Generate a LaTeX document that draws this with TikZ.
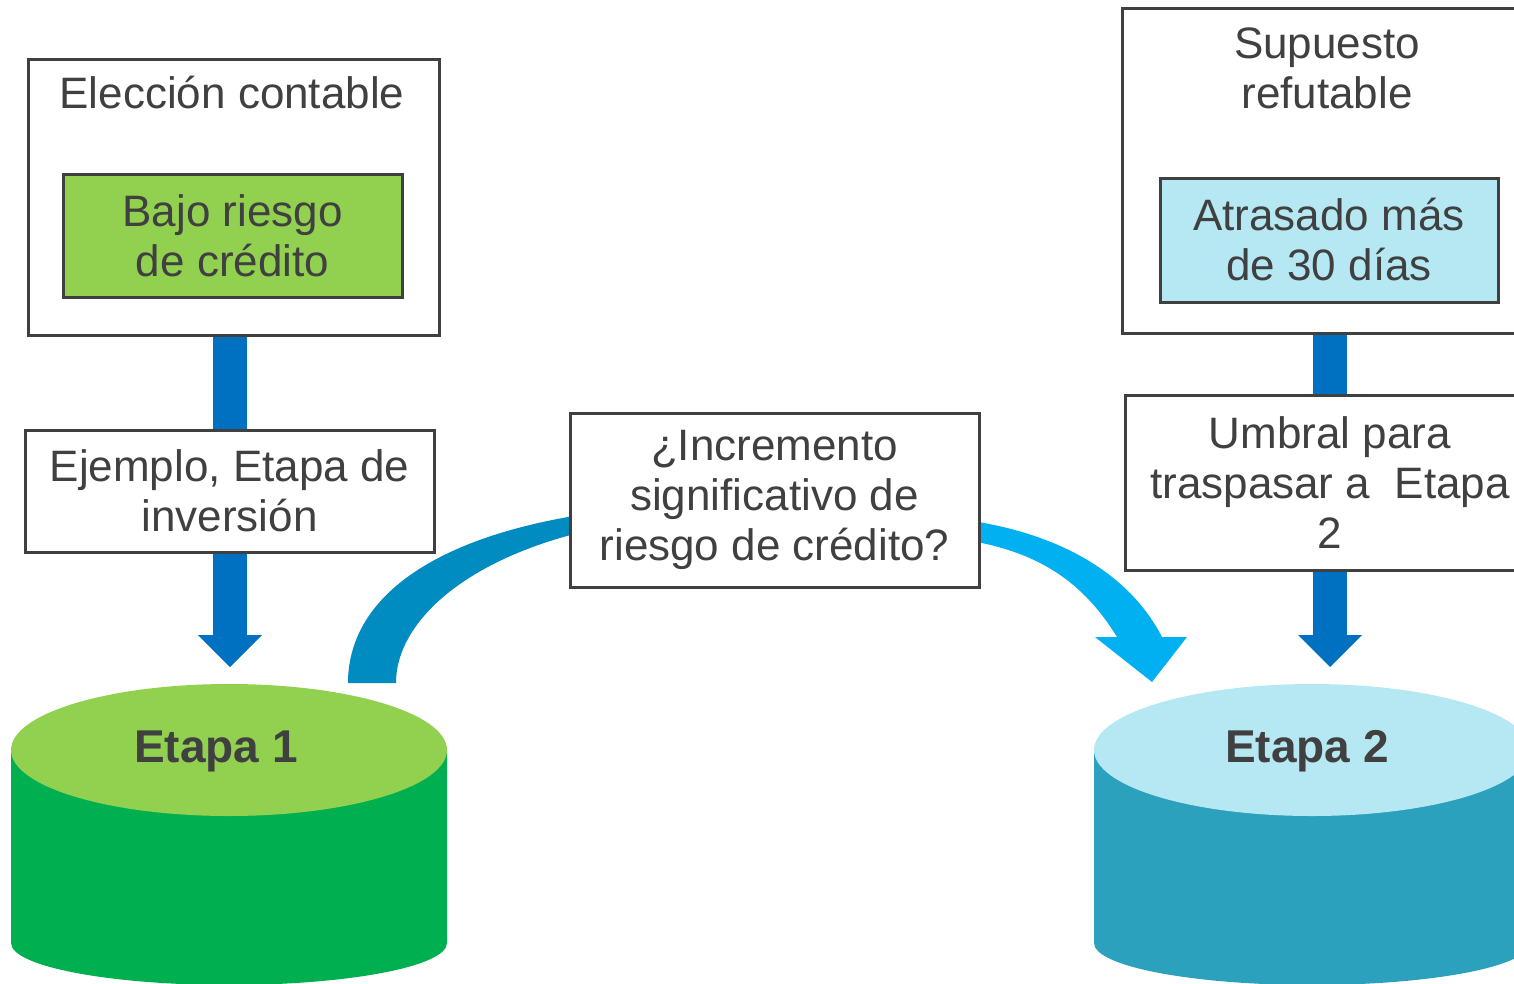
\documentclass[tikz,border=0pt]{standalone}
\usepackage{fontspec}
\setmainfont{Liberation Sans}
\usepackage{xcolor}
\usetikzlibrary{arrows.meta,backgrounds,calc}

\definecolor{borde}{HTML}{404040}
\definecolor{verdeclaro}{HTML}{92D050}
\definecolor{verde}{HTML}{00B050}
\definecolor{celeste}{HTML}{B5E8F3}
\definecolor{azulcil}{HTML}{2CA1BE}
\definecolor{azulflecha}{HTML}{0070C0}
\definecolor{azulcurva}{HTML}{008CC0}
\definecolor{cian}{HTML}{00B0F0}

\tikzset{
  caja/.style={draw=borde, line width=3pt, fill=white, inner sep=0pt, align=center,
    text=borde, font=\fontsize{44}{50}\selectfont},
  texto/.style={inner sep=0pt, align=center, text=borde, font=\fontsize{44}{50}\selectfont},
  etapa/.style={inner sep=0pt, anchor=base, text=borde, font=\fontsize{46}{50}\selectfont\bfseries},
  flecha/.style={draw=azulflecha, line width=34pt},
  punta/.style={-{Triangle[length=32pt, width=64pt, line width=0pt]}}
}

\begin{document}
\begin{tikzpicture}[x=1pt, y=-1pt]
\useasboundingbox (0,0) rectangle (1514,983);
\clip (0,0) rectangle (1514,983);

% Etapa 1 cylinder
\fill[verde] (11,750) -- (11,943) arc[start angle=180, end angle=0, x radius=218, y radius=42] -- (447,750) -- cycle;
\fill[verdeclaro] (229,750) ellipse[x radius=218, y radius=66];
\node[etapa] (etapa1) at (216,762) {Etapa 1};

% Etapa 2 cylinder
\fill[azulcil] (1094,750) -- (1094,943) arc[start angle=180, end angle=0, x radius=218, y radius=42] -- (1530,750) -- cycle;
\fill[celeste] (1312,750) ellipse[x radius=218, y radius=66];
\node[etapa] (etapa2) at (1307,762) {Etapa 2};

% Left column
\node[caja, minimum width=411, minimum height=276] (eleccion) at (233.5,197) {};
\node[texto, anchor=base] (titulo1) at (232,108) {Elección contable};
\node[caja, fill=verdeclaro, minimum width=339, minimum height=123] (bajo) at (232.5,235.5) {Bajo riesgo\\de crédito};
\node[caja, minimum width=409, minimum height=122] (ejemplo) at (229.5,491) {Ejemplo, Etapa de\\inversión};

% Middle question
\node[caja, minimum width=409, minimum height=174] (incremento) at (774.5,500) {¿Incremento\\significativo de\\riesgo de crédito?};

% Right column
\node[caja, minimum width=410, minimum height=325] (supuesto) at (1327,170.5) {};
\node[texto] (titulo2) at (1327,68) {Supuesto\\refutable};
\node[caja, fill=celeste, minimum width=338, minimum height=124] (atrasado) at (1329,240) {Atrasado más\\de 30 días};
\node[caja, minimum width=410, minimum height=175] (umbral) at (1330,482.5) {Umbral para\\traspasar a~~Etapa\\2};

% Arrow ends above the cylinders
\coordinate (tope1) at (230,667);
\coordinate (tope2) at (1330,667);

\begin{scope}[on background layer]
% Vertical arrows
\draw[flecha] (eleccion.south -| tope1) -- (ejemplo.north -| tope1);
\draw[flecha, punta] (ejemplo.south -| tope1) -- (tope1);
\draw[flecha] (supuesto.south -| tope2) -- (umbral.north -| tope2);
\draw[flecha, punta] (umbral.south -| tope2) -- (tope2);

% Curved bands
\fill[azulcurva] (348,683) .. controls (348,600) and (430,535) .. (600,512)
  -- (600,528) .. controls (470,555) and (396,620) .. (396,683) -- cycle;
\fill[cian] (950,518) .. controls (1060,530) and (1130,575) .. (1162,637)
  -- (1187,637) -- (1152,682) -- (1095,637) -- (1117,637)
  .. controls (1085,585) and (1040,548) .. (950,538) -- cycle;
\end{scope}

\end{tikzpicture}
\end{document}
